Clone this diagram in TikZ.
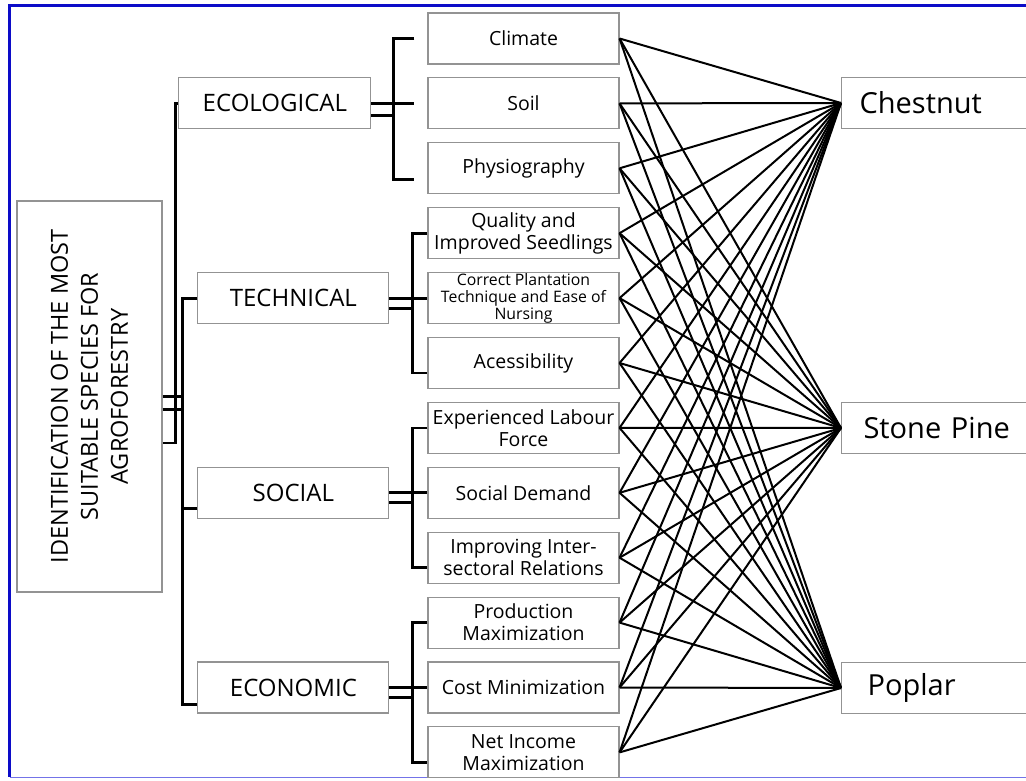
\documentclass[tikz,border=0pt]{standalone}
\usepackage{fontspec}
\setmainfont{Open Sans}
\usetikzlibrary{positioning,calc}
\definecolor{framedark}{RGB}{12,12,200}
\definecolor{framelight}{RGB}{115,115,232}

\begin{document}
\begin{tikzpicture}[
    x=1pt, y=-1pt,
    node distance=12.8pt,
    box/.style={draw=gray!85, line width=1.1pt, minimum width=191pt, minimum height=51pt, inner sep=0pt, align=center},
    crit/.style={box, font=\fontsize{24}{28}\selectfont},
    sub/.style={box, font=\fontsize{19.5}{22}\selectfont},
    species/.style={draw=gray!85, line width=1.1pt, anchor=west, text width=170pt, align=left, inner xsep=18pt, minimum height=51pt, font=\fontsize{29}{32}\selectfont},
    brk/.style={line width=2.8pt},
    link/.style={line width=2pt}
]
\useasboundingbox (0,0) rectangle (1026,781);
\clip (0,0) rectangle (1026,781);

\draw[framedark, line width=3pt] (1030,6) -- (9.5,6) -- (9.5,777);
\draw[framelight, line width=1.6pt] (9.5,777.5) -- (1030,777.5);

\node[box, minimum width=391pt, minimum height=145pt, rotate=90, font=\fontsize{23.5}{30}\selectfont] (goal) at (89.5,396.5)
  {IDENTIFICATION OF THE MOST\\SUITABLE SPECIES FOR\\AGROFORESTRY};

\node[sub] (clim) at (523.5,38.5) {Climate};
\node[sub, below=of clim] (soil) {Soil};
\node[sub, below=of soil] (phys) {Physiography};
\node[sub, below=of phys] (qual) {Quality and\\Improved Seedlings};
\node[sub, below=of qual, font=\fontsize{15.8}{17}\selectfont] (corr) {Correct Plantation\\Technique and Ease of\\Nursing};
\node[sub, below=of corr] (acc) {Acessibility};
\node[sub, below=of acc] (exp) {Experienced Labour\\Force};
\node[sub, below=of exp] (dem) {Social Demand};
\node[sub, below=of dem] (rel) {Improving Inter-\\sectoral Relations};
\node[sub, below=of rel] (prod) {Production\\Maximization};
\node[sub, below=of prod] (cost) {Cost Minimization};
\node[sub, below=of cost] (inc) {Net Income\\Maximization};

\node[crit, minimum width=192pt, left=56pt of soil] (ecol) {ECOLOGICAL};
\node[crit, left=38pt of corr] (tech) {TECHNICAL};
\node[crit, left=38pt of dem] (soc) {SOCIAL};
\node[crit, left=38pt of cost] (econ) {ECONOMIC};

\node[species] (chest) at (841,103) {Chestnut};
\node[species, inner xsep=22pt] (pine) at (841,428) {Stone Pine};
\node[species, inner xsep=26pt] (poplar) at (841,688) {Poplar};

\foreach \s in {clim,soil,phys,qual,corr,acc,exp,dem,rel,prod,cost,inc}
  \foreach \t in {chest,pine,poplar}
    \draw[link] (\s.east) -- (\t.west);

\draw[brk] ([xshift=-13pt]clim.west) -| ($(ecol.east)+(22,0)$) |- ([xshift=-13pt,yshift=-11pt]phys.west);
\draw[brk] (ecol.east) -- ([xshift=-13pt]soil.west);
\draw[brk] ($(ecol.east)+(0,12)$) -- ++(22,0);

\foreach \c/\a/\m/\b in {tech/qual/corr/acc, soc/exp/dem/rel, econ/prod/cost/inc} {
  \draw[brk] (\a.west) -| ($(\c.east)+(23,0)$) |- ([yshift=-10pt]\b.west);
  \draw[brk] (\c.east) -- (\m.west);
  \draw[brk] ($(\c.east)+(0,10)$) -- ++(23,0);
}

\draw[brk] (ecol.west) -| ([xshift=13pt,yshift=-46.5pt]goal.south) -- ([yshift=-46.5pt]goal.south);
\draw[brk] (tech.west) -| ([xshift=-15pt,yshift=-17pt]econ.west) -- ([yshift=-17pt]econ.west);
\draw[brk] ([yshift=-16pt]soc.west) -- ++(-15,0);
\draw[brk] (goal.south) -- ++(21,0);
\draw[brk] ([yshift=-13pt]goal.south) -- ++(21,0);
\end{tikzpicture}
\end{document}
